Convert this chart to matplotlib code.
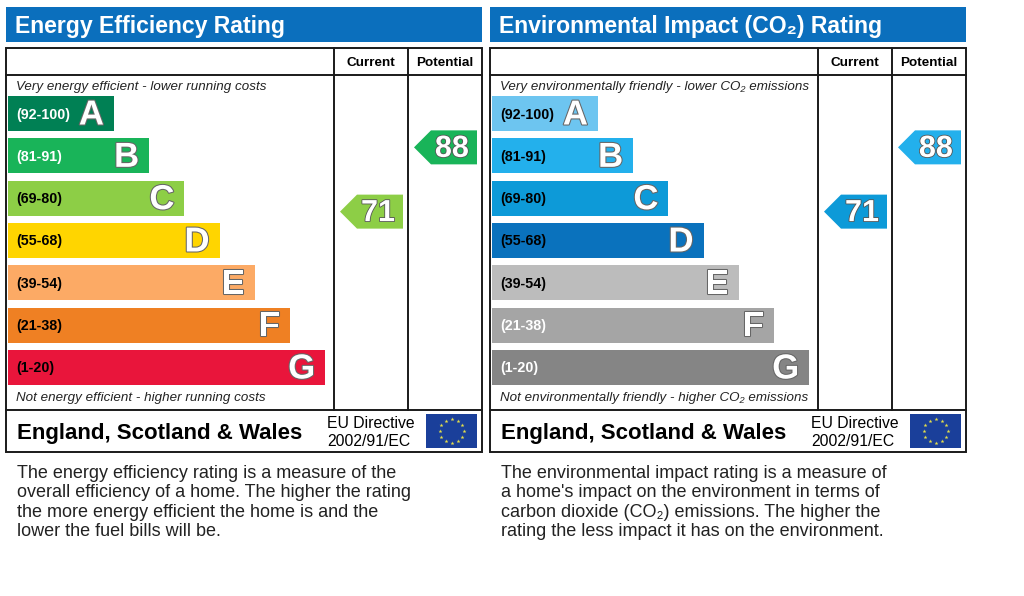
import matplotlib
matplotlib.use("Agg")
import matplotlib.pyplot as plt
import matplotlib.patheffects as pe
from matplotlib.patches import Polygon, Rectangle
import numpy as np

plt.rcParams['font.family'] = ['Liberation Sans', 'DejaVu Sans']

# ---- data ----
band_letters = ["A", "B", "C", "D", "E", "F", "G"]
band_ranges = ["(92-100)", "(81-91)", "(69-80)", "(55-68)",
               "(39-54)", "(21-38)", "(1-20)"]
band_low = [92, 81, 69, 55, 39, 21, 1]
band_high = [100, 91, 80, 68, 54, 38, 20]

ee_colors = ["#008054", "#19b459", "#8dce46", "#ffd500",
             "#fcaa65", "#ef8023", "#e9153b"]
ee_label_colors = ["white", "white", "black", "black",
                   "black", "black", "black"]
ei_colors = ["#6dc5f0", "#23b0ec", "#0d9ad8", "#0a72bd",
             "#bcbcbc", "#a5a5a5", "#858585"]
ei_label_colors = ["black", "black", "black", "black",
                   "black", "white", "white"]

ee_current, ee_potential = 71, 88
ei_current, ei_potential = 71, 88

titles = ["Energy Efficiency Rating", "Environmental Impact (CO\u2082) Rating"]
top_notes = ["Very energy efficient - lower running costs",
             "Very environmentally friendly - lower CO\u2082 emissions"]
bottom_notes = ["Not energy efficient - higher running costs",
                "Not environmentally friendly - higher CO\u2082 emissions"]
descriptions = [
    "The energy efficiency rating is a measure of the\n"
    "overall efficiency of a home. The higher the rating\n"
    "the more energy efficient the home is and the\n"
    "lower the fuel bills will be.",
    "The environmental impact rating is a measure of\n"
    "a home's impact on the environment in terms of\n"
    "carbon dioxide (CO\u2082) emissions. The higher the\n"
    "rating the less impact it has on the environment.",
]

# ---- layout (pixels) ----
PANEL_W = 476
BAND_TOP = 113.5
PITCH = 42.33
BAR_H = 35
EDGE = "#1a1a1a"


def band_y(value):
    for i, (lo, hi) in enumerate(zip(band_low, band_high)):
        if lo <= value <= hi:
            frac = (value - lo) / (hi - lo)
            c = BAND_TOP + PITCH * i
            return c + PITCH / 2 - frac * PITCH, i
    return BAND_TOP, 0


def arrow(ax, x_left, x_right, value, colors):
    y, i = band_y(value)
    h = 17
    pts = [(x_left, y), (x_left + h, y - h), (x_right, y - h),
           (x_right, y + h), (x_left + h, y + h)]
    ax.add_patch(Polygon(pts, closed=True, facecolor=colors[i],
                         edgecolor="none"))
    ax.text((x_left + h + x_right) / 2 - 2, y + 1.5, str(value),
            color="white", fontsize=22, fontweight="bold",
            ha="center", va="center",
            path_effects=[pe.withStroke(linewidth=1.2,
                                        foreground="#555555")])


def eu_flag(ax, x, y, w, h):
    ax.add_patch(Rectangle((x, y), w, h, facecolor="#1a3f9a",
                           edgecolor="none"))
    ang = np.linspace(0, 2 * np.pi, 12, endpoint=False)
    cx, cy, r = x + w / 2, y + h / 2, 12
    ax.scatter(cx + r * np.cos(ang), cy + r * np.sin(ang), marker="*",
               s=9, color="#e6e04a", linewidths=0, zorder=5)


def panel(ax, x0, title, top_note, bottom_note, colors, label_colors,
          current, potential, desc):
    # title bar
    ax.add_patch(Rectangle((x0, 7), PANEL_W, 35, facecolor="#0b6fbd",
                           edgecolor="none"))
    ax.text(x0 + 9, 26, title, color="white", fontsize=16.6,
            fontweight="bold", ha="left", va="center")

    # table frame
    top, head, foot, bottom = 48, 75, 410, 452
    c1, c2, right = x0 + 328, x0 + 402, x0 + PANEL_W
    lw = 1.4
    ax.add_patch(Rectangle((x0, top), PANEL_W, bottom - top,
                           facecolor="none", edgecolor=EDGE, lw=lw))
    ax.plot([x0, right], [head, head], color=EDGE, lw=lw)
    ax.plot([x0, right], [foot, foot], color=EDGE, lw=lw)
    ax.plot([c1, c1], [top, foot], color=EDGE, lw=lw)
    ax.plot([c2, c2], [top, foot], color=EDGE, lw=lw)
    ax.text((c1 + c2) / 2, 62.5, "Current", fontsize=9.7, fontweight="bold",
            ha="center", va="center")
    ax.text((c2 + right) / 2, 62.5, "Potential", fontsize=9.7,
            fontweight="bold", ha="center", va="center")

    ax.text(x0 + 10, 87, top_note, fontsize=9.6, style="italic",
            ha="left", va="center", color="#222222")
    ax.text(x0 + 10, 398, bottom_note, fontsize=9.6, style="italic",
            ha="left", va="center", color="#222222")

    # bands
    centers = BAND_TOP + PITCH * np.arange(len(band_letters))
    widths = 106 + 35.2 * np.arange(len(band_letters))
    ax.barh(centers, widths, height=BAR_H, left=x0 + 2, color=colors)
    for yc, w, rng, let, lc in zip(centers, widths, band_ranges,
                                   band_letters, label_colors):
        ax.text(x0 + 10, yc + 1, rng, fontsize=10.3, fontweight="bold",
                color=lc, ha="left", va="center")
        ax.text(x0 + 2 + w - 10, yc + 1.5, let, fontsize=25,
                fontweight="bold", color="white", ha="right", va="center",
                path_effects=[pe.withStroke(linewidth=1.5,
                                            foreground="#666666")])

    arrow(ax, c1 + 6, c2 - 5, current, colors)
    arrow(ax, c2 + 6, right - 5, potential, colors)

    # footer
    ax.text(x0 + 11, 433, "England, Scotland & Wales", fontsize=16,
            fontweight="bold", ha="left", va="center")
    ax.text(x0 + 321, 432, "EU Directive\n2002/91/EC", fontsize=11.3,
            ha="left", va="center", linespacing=1.25)
    eu_flag(ax, x0 + 420, 414, 51, 34)

    ax.text(x0 + 11, 464.5, desc, fontsize=13, ha="left", va="top",
            color="#222222", linespacing=1.2)


def main():
    fig = plt.figure(figsize=(10.24, 5.96), dpi=100)
    ax = fig.add_axes([0, 0, 1, 1])
    ax.set_xlim(0, 1024)
    ax.set_ylim(596, 0)
    ax.axis("off")

    panel(ax, 6, titles[0], top_notes[0], bottom_notes[0], ee_colors,
          ee_label_colors, ee_current, ee_potential, descriptions[0])
    panel(ax, 490, titles[1], top_notes[1], bottom_notes[1], ei_colors,
          ei_label_colors, ei_current, ei_potential, descriptions[1])

    fig.savefig("out.png", dpi=100)


if __name__ == "__main__":
    main()
